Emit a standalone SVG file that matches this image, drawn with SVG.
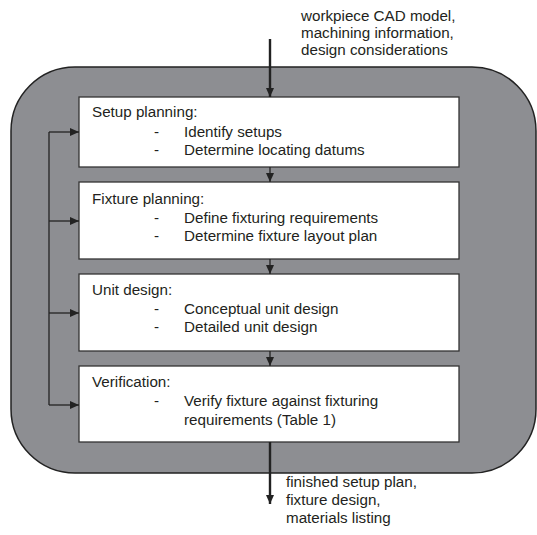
<svg xmlns="http://www.w3.org/2000/svg" width="537" height="535" viewBox="0 0 537 535">
  <style>
    text { font-family: "Liberation Sans", Arial, sans-serif; font-size: 15.2px; fill: #231f20; }
    .box { fill: #fff; stroke: #333; stroke-width: 1.3; }
    .line { stroke: #222; fill: none; stroke-width: 1.3; }
    .thick { stroke: #222; fill: none; stroke-width: 2.4; }
  </style>
  <defs>
    <marker id="ah" markerWidth="9" markerHeight="8" refX="9" refY="4" orient="auto" markerUnits="userSpaceOnUse">
      <path d="M0,0 L9,4 L0,8 Z" fill="#222"/>
    </marker>
  </defs>

  <!-- enclosing process container -->
  <rect id="container" x="11" y="67" width="525" height="406" rx="64" ry="64" fill="#8d8e92" stroke="#222" stroke-width="1.5"/>

  <!-- input / output labels -->
  <g id="input-label">
    <text x="301" y="21">workpiece CAD model,</text>
    <text x="301" y="38">machining information,</text>
    <text x="301" y="55">design considerations</text>
  </g>
  <g id="output-label">
    <text x="286" y="487">finished setup plan,</text>
    <text x="286" y="505">fixture design,</text>
    <text x="286" y="523">materials listing</text>
  </g>

  <g id="setup-planning">
    <rect class="box" x="79" y="97" width="380" height="70"/>
    <text x="92" y="117">Setup planning:</text>
    <text x="154" y="137">-</text>
    <text x="184" y="137">Identify setups</text>
    <text x="154" y="155">-</text>
    <text x="184" y="155">Determine locating datums</text>
  </g>

  <g id="fixture-planning">
    <rect class="box" x="79" y="182" width="380" height="77"/>
    <text x="92" y="204">Fixture planning:</text>
    <text x="154" y="223">-</text>
    <text x="184" y="223">Define fixturing requirements</text>
    <text x="154" y="241">-</text>
    <text x="184" y="241">Determine fixture layout plan</text>
  </g>

  <g id="unit-design">
    <rect class="box" x="79" y="274" width="380" height="77"/>
    <text x="92" y="295">Unit design:</text>
    <text x="154" y="314">-</text>
    <text x="184" y="314">Conceptual unit design</text>
    <text x="154" y="332">-</text>
    <text x="184" y="332">Detailed unit design</text>
  </g>

  <g id="verification">
    <rect class="box" x="79" y="366" width="380" height="76"/>
    <text x="92" y="387">Verification:</text>
    <text x="154" y="406">-</text>
    <text x="184" y="406">Verify fixture against fixturing</text>
    <text x="184" y="425">requirements (Table 1)</text>
  </g>

  <g id="connectors">
    <!-- main input and output -->
    <line class="thick" x1="270" y1="39" x2="270" y2="97" marker-end="url(#ah)"/>
    <line class="thick" x1="270" y1="442" x2="270" y2="504" marker-end="url(#ah)"/>
    <!-- sequence between stages -->
    <line class="line" x1="270" y1="167" x2="270" y2="182" marker-end="url(#ah)"/>
    <line class="line" x1="270" y1="259" x2="270" y2="274" marker-end="url(#ah)"/>
    <line class="line" x1="270" y1="351" x2="270" y2="366" marker-end="url(#ah)"/>
    <!-- feedback bus -->
    <line class="line" x1="49" y1="132" x2="49" y2="405"/>
    <line class="line" x1="49" y1="132" x2="79" y2="132" marker-end="url(#ah)"/>
    <line class="line" x1="49" y1="221" x2="79" y2="221" marker-end="url(#ah)"/>
    <line class="line" x1="49" y1="313" x2="79" y2="313" marker-end="url(#ah)"/>
    <line class="line" x1="49" y1="405" x2="79" y2="405" marker-end="url(#ah)"/>
  </g>
</svg>
